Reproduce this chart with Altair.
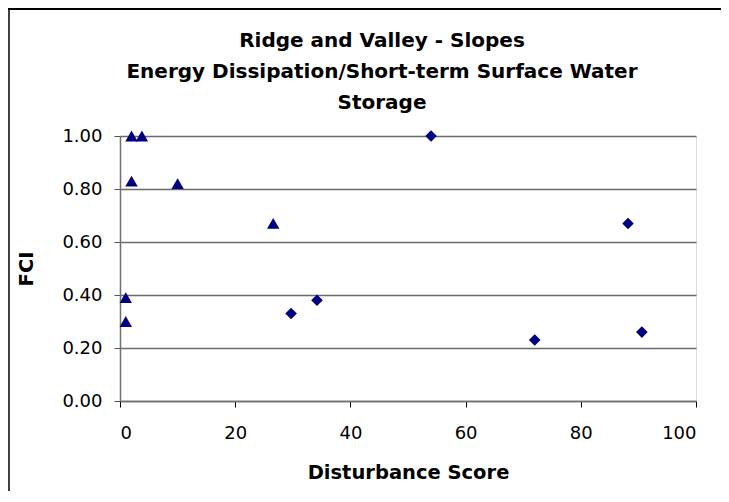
import altair as alt
import pandas as pd

# Series 1 (triangles)
tri_x = [2.0, 3.8, 2.0, 10.0, 26.6, 1.0, 1.0]
tri_y = [1.00, 1.00, 0.83, 0.82, 0.67, 0.39, 0.30]
# Series 2 (diamonds)
dia_x = [29.7, 34.2, 54.0, 72.0, 88.2, 90.6]
dia_y = [0.33, 0.38, 1.00, 0.23, 0.67, 0.26]

x_ticks = [0, 20, 40, 60, 80, 100]
y_ticks = [0.0, 0.2, 0.4, 0.6, 0.8, 1.0]

title_lines = ["Ridge and Valley - Slopes",
               "Energy Dissipation/Short-term Surface Water",
               "Storage"]

df = pd.DataFrame({
    "x": tri_x + dia_x,
    "y": tri_y + dia_y,
    "series": ["tri"] * len(tri_x) + ["dia"] * len(dia_x),
})

FONT = "DejaVu Sans"
NAVY = "#000080"

xenc = alt.X("x:Q", title="Disturbance Score",
             scale=alt.Scale(domain=[0, 100], nice=False, zero=False),
             axis=alt.Axis(values=x_ticks, grid=False, format="d",
                           labelFontSize=18, labelFont=FONT, labelColor="#000",
                           labelPadding=17, tickSize=6, tickColor="#000",
                           domainColor="#707070", domainWidth=1.5,
                           titleFont=FONT, titleFontSize=19.5, titleFontWeight="bold",
                           titleColor="#000", titlePadding=21))
yenc = alt.Y("y:Q", title="FCI",
             scale=alt.Scale(domain=[0, 1], nice=False),
             axis=alt.Axis(values=y_ticks, format=".2f", grid=True,
                           gridColor="#6a6a6a", gridWidth=1.3,
                           labelFontSize=18, labelFont=FONT, labelColor="#000",
                           labelPadding=12, tickSize=6, tickColor="#555",
                           domainColor="#707070", domainWidth=1.5,
                           titleFont=FONT, titleFontSize=19.5, titleFontWeight="bold",
                           titleColor="#000", titlePadding=25))

points = alt.Chart(df).mark_point(filled=True, opacity=1, color=NAVY).encode(
    x=xenc,
    y=yenc,
    shape=alt.Shape("series:N",
                    scale=alt.Scale(domain=["tri", "dia"],
                                    range=["triangle-up", "diamond"]),
                    legend=None),
    size=alt.Size("series:N",
                  scale=alt.Scale(domain=["tri", "dia"], range=[155, 135]),
                  legend=None),
)

frame_left = alt.Chart(df).mark_rule(color="#404040", strokeWidth=2).encode(
    x=alt.value(-111), y=alt.value(-128), y2=alt.value(400))
frame_top = alt.Chart(df).mark_rule(color="#000", strokeWidth=1.2).encode(
    x=alt.value(-112), x2=alt.value(601), y=alt.value(-127.4))

chart = alt.layer(frame_left, frame_top, points).properties(
    width=576, height=265,
    title=alt.TitleParams(text=title_lines, font=FONT, fontSize=20,
                          fontWeight="bold", color="#000", lineHeight=31,
                          anchor="middle", dx=-26, offset=-106),
    autosize=alt.AutoSizeParams(type="none"),
    padding={"left": 112, "top": 128, "right": 25, "bottom": 90},
).configure_view(stroke="#a0a0a0", strokeWidth=1.3).configure(background="white")

chart.save("out.html", embed_options={"renderer": "svg", "actions": False})
